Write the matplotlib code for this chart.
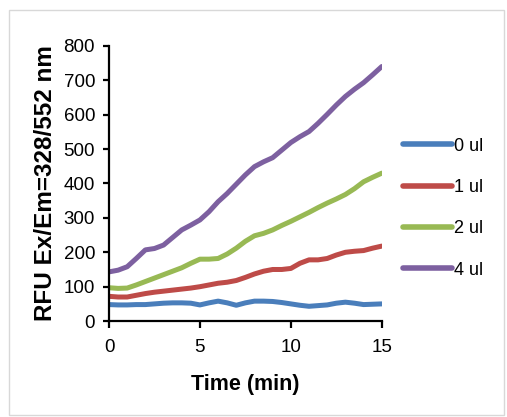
import matplotlib
matplotlib.use("Agg")
from matplotlib import pyplot as plt
from matplotlib.patches import Rectangle

plt.rcParams['font.family'] = ['Liberation Sans', 'DejaVu Sans']

# time points, every half minute
time_min = [i * 0.5 for i in range(31)]

rfu_0ul = [48, 47, 47, 48, 48, 50, 52, 53, 53, 52, 47, 53, 58, 53, 46, 53,
           58, 58, 57, 54, 50, 46, 43, 45, 47, 52, 55, 52, 48, 49, 50]
rfu_1ul = [72, 70, 70, 75, 80, 84, 87, 90, 93, 96, 100, 105, 110, 113, 118, 127,
           137, 145, 150, 150, 153, 168, 178, 178, 182, 192, 200, 203, 205, 212, 218]
rfu_2ul = [97, 95, 96, 105, 115, 125, 135, 145, 155, 168, 180, 180, 182, 195, 212, 232,
           248, 255, 265, 278, 290, 303, 316, 330, 343, 355, 368, 385, 405, 418, 430]
rfu_4ul = [143, 148, 158, 182, 207, 211, 221, 243, 265, 279, 294, 318, 347, 371, 398, 425,
           449, 463, 475, 497, 519, 536, 551, 575, 601, 628, 653, 674, 693, 716, 740]

labels = ["0 ul", "1 ul", "2 ul", "4 ul"]
colors = ["#4a7ebb", "#be4b48", "#98b954", "#7d60a0"]

fig = plt.figure(figsize=(5.07, 4.17), dpi=100)
# faint frame round the picture
fig.patches.append(Rectangle((0.018, 0.005), 0.976, 0.972, transform=fig.transFigure,
                             fill=False, edgecolor="#d8d8d8", linewidth=1.0))

ax = fig.add_axes([0.215, 0.230, 0.538, 0.660])
for series, lab, col in zip([rfu_0ul, rfu_1ul, rfu_2ul, rfu_4ul], labels, colors):
  ax.plot(time_min, series, color=col, linewidth=3.6, label=lab, solid_capstyle="round")

ax.set_xlim(0, 15)
ax.set_ylim(0, 800)
ax.set_xticks([0, 5, 10, 15])
ax.set_yticks(range(0, 801, 100))
ax.spines['top'].set_visible(False)
ax.spines['right'].set_visible(False)
ax.spines['left'].set_linewidth(1.6)
ax.spines['bottom'].set_linewidth(1.6)
ax.tick_params(axis='both', labelsize=13.5, width=1.6, length=4, direction='out')
ax.tick_params(axis='x', length=5, pad=8)
ax.tick_params(axis='y', pad=6)
ax.set_xlabel("Time (min)", fontsize=15.5, fontweight="bold", labelpad=13)
ax.set_ylabel("RFU Ex/Em=328/552 nm", fontsize=17.5, fontweight="bold", labelpad=5)

leg = ax.legend(loc="center left", bbox_to_anchor=(1.02, 0.41), frameon=False,
                fontsize=13, handlelength=2.7, handletextpad=0.1, labelspacing=1.35)
for line in leg.get_lines():
  line.set_linewidth(4)

fig.savefig("out.png", dpi=100)
